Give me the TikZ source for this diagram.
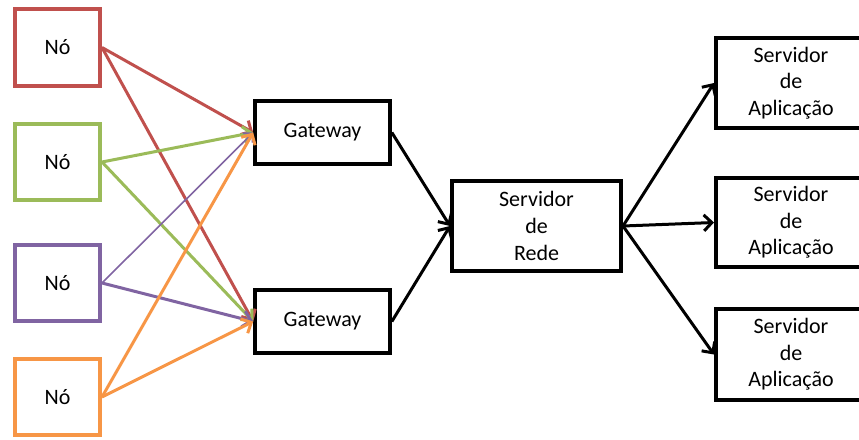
\documentclass[tikz,border=0pt]{standalone}
\usepackage{fontspec}
\setmainfont{Carlito}
\usetikzlibrary{arrows.meta}
\definecolor{cred}{HTML}{C0504D}
\definecolor{cgreen}{HTML}{9BBB59}
\definecolor{cpurple}{HTML}{8064A2}
\definecolor{corange}{HTML}{F79646}
\tikzset{
  box/.style={draw, line width=3pt, rectangle, inner sep=0pt, align=center,
    font=\fontsize{16.5}{20}\selectfont, fill=white},
  nobox/.style={box, minimum width=63.75pt, minimum height=57.5pt},
  gwbox/.style={box, draw=black, minimum width=101pt, minimum height=47.5pt},
  conn/.style={line width=2.25pt, -{Straight Barb[length=6pt,width=12pt]}},
  thinconn/.style={line width=1.2pt, -{Straight Barb[length=5pt,width=10pt]}},
}
\begin{document}
\begin{tikzpicture}[x=0.75pt,y=-0.75pt]
\useasboundingbox (0,0) rectangle (859,439);
\node[nobox, draw=cred] (n1) at (57.5,47.5) {Nó};
\node[nobox, draw=cgreen] (n2) at (57.5,162) {Nó};
\node[nobox, draw=cpurple] (n3) at (57.5,283) {Nó};
\node[nobox, draw=corange] (n4) at (57.5,397) {Nó};
\node[gwbox] (g1) at (322.5,132.5) {Gateway};
\node[gwbox] (g2) at (322.5,321.5) {Gateway};
\node[box, minimum width=126.75pt, minimum height=67.5pt] (r) at (536.5,226) {Servidor\\de\\Rede};
\node[box, minimum width=112.5pt, minimum height=67.5pt] (a1) at (791,83) {Servidor\\de\\Aplicação};
\node[box, minimum width=112.5pt, minimum height=67pt] (a2) at (791,222.5) {Servidor\\de\\Aplicação};
\node[box, minimum width=112.5pt, minimum height=68pt] (a3) at (791,354.5) {Servidor\\de\\Aplicação};
% colored connectors
\draw[conn, cred] (n1.east) -- (g1.west);
\draw[conn, cred] (n1.east) -- (g2.west);
\draw[conn, cgreen] (n2.east) -- (g1.west);
\draw[conn, cgreen] (n2.east) -- (g2.west);
\draw[thinconn, cpurple] (n3.east) -- (g1.west);
\draw[conn, cpurple] (n3.east) -- (g2.west);
\draw[conn, corange] (n4.east) -- (g1.west);
\draw[conn, corange] (n4.east) -- (g2.west);
% black connectors
\draw[conn] (g1.east) -- (r.west);
\draw[conn] (g2.east) -- (r.west);
\draw[conn] (r.east) -- (a1.west);
\draw[conn] (r.east) -- (a2.west);
\draw[conn] (r.east) -- (a3.west);
\end{tikzpicture}
\end{document}
